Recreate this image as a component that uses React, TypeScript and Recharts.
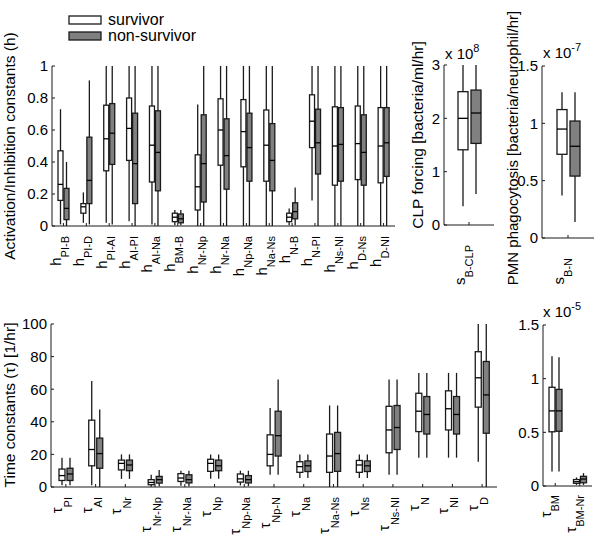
import React from "react";
import { ComposedChart, Bar, XAxis, YAxis } from "recharts";

const FONT = '"Liberation Sans", Arial, Helvetica, sans-serif';
const INK = "#1a1a1a";
const GREY = "#808080";

// each box: [low whisker, q1, median, q3, high whisker]

// activation / inhibition constants
const hLabels = ["PI-B", "PI-D", "PI-AI", "AI-PI", "AI-Na", "BM-B", "Nr-Np", "Nr-Na", "Np-Na", "Na-Ns", "N-B", "N-PI", "Ns-NI", "D-Ns", "D-NI"];
const hSurvivor = [
  [0.01, 0.16, 0.26, 0.47, 0.73],
  [0.02, 0.08, 0.12, 0.14, 0.21],
  [0.02, 0.345, 0.545, 0.755, 1],
  [0.03, 0.41, 0.61, 0.8, 1],
  [0.01, 0.275, 0.505, 0.75, 1],
  [0.005, 0.027, 0.055, 0.08, 0.1],
  [0, 0.1, 0.245, 0.445, 0.76],
  [0, 0.38, 0.6, 0.795, 1],
  [0, 0.37, 0.59, 0.79, 1],
  [0, 0.28, 0.505, 0.725, 1],
  [0.005, 0.027, 0.055, 0.08, 0.11],
  [0.16, 0.49, 0.655, 0.82, 1],
  [0, 0.255, 0.5, 0.745, 1],
  [0, 0.29, 0.515, 0.75, 1],
  [0, 0.27, 0.5, 0.74, 1],
];
const hNonSurvivor = [
  [0, 0.04, 0.11, 0.235, 0.4],
  [0.01, 0.14, 0.285, 0.555, 0.91],
  [0.01, 0.385, 0.58, 0.765, 1],
  [0, 0.14, 0.39, 0.705, 1],
  [0, 0.22, 0.46, 0.72, 1],
  [0.005, 0.02, 0.045, 0.075, 0.1],
  [0, 0.15, 0.39, 0.695, 1],
  [0, 0.23, 0.44, 0.67, 1],
  [0, 0.28, 0.49, 0.705, 1],
  [0, 0.22, 0.41, 0.64, 1],
  [0.005, 0.045, 0.09, 0.145, 0.24],
  [0, 0.325, 0.52, 0.73, 1],
  [0, 0.28, 0.51, 0.74, 1],
  [0, 0.255, 0.46, 0.695, 1],
  [0, 0.31, 0.52, 0.74, 1],
];
const hTicks = [0, 0.2, 0.4, 0.6, 0.8, 1];

// CLP forcing (x 10^8)
const clpLabels = ["B-CLP"];
const clpSurvivor = [[0.35, 1.41, 2.0, 2.5, 3.0]];
const clpNonSurvivor = [[0.58, 1.53, 2.1, 2.53, 3.0]];
const clpTicks = [0, 1, 2, 3];

// PMN phagocytosis (x 10^-7)
const pmnLabels = ["B-N"];
const pmnSurvivor = [[0.37, 0.73, 0.95, 1.12, 1.27]];
const pmnNonSurvivor = [[0.14, 0.54, 0.8, 1.02, 1.27]];
const pmnTicks = [0, 0.5, 1, 1.5];

// time constants
const tauLabels = ["PI", "AI", "Nr", "Nr-Np", "Nr-Na", "Np", "Np-Na", "Np-N", "Na", "Na-Ns", "Ns", "Ns-NI", "N", "NI", "D"];
const tauSurvivor = [
  [1, 4, 7, 11, 18],
  [1, 13, 23, 41, 65],
  [5, 10.5, 14.5, 16.5, 20],
  [0.2, 1.4, 2.8, 4.5, 7.5],
  [0.8, 3.4, 5.5, 8.2, 10],
  [5, 9.6, 14.5, 17, 20],
  [1, 3, 5, 8, 10],
  [7.5, 13, 20, 32, 48.5],
  [5.5, 9, 12.5, 15.5, 20],
  [0, 9, 19, 32.5, 50],
  [5.5, 9, 13.5, 16.3, 20],
  [7.5, 21, 35, 49.5, 66],
  [18, 34, 46.5, 57.5, 70],
  [18, 35, 48, 59, 70],
  [15.5, 49, 67, 83, 100],
];
const tauNonSurvivor = [
  [1, 4, 8, 11.5, 18],
  [0, 11.5, 20.5, 30, 47.5],
  [5, 10, 13.5, 16.5, 20],
  [0.5, 2.4, 4.5, 6.5, 10.5],
  [0.5, 2.5, 4.5, 7.5, 10],
  [5, 10, 13, 16.5, 20],
  [0.5, 2.5, 4.5, 7, 10],
  [7.5, 19, 31.5, 46.5, 66],
  [5.5, 9.5, 13, 16, 20],
  [0, 9.6, 20.5, 33.5, 50],
  [5.5, 9.5, 13, 16, 20],
  [7.5, 23, 36.5, 50, 66],
  [18, 32.5, 44.5, 55.5, 70],
  [18, 32.5, 44.5, 55.5, 70],
  [0, 33, 56.5, 77, 100],
];
const tauTicks = [0, 20, 40, 60, 80, 100];

// bone marrow time constants (x 10^-5)
const bmLabels = ["BM", "BM-Nr"];
const bmSurvivor = [
  [0.135, 0.505, 0.7, 0.92, 1.21],
  [0.01, 0.025, 0.04, 0.06, 0.08],
];
const bmNonSurvivor = [
  [0.135, 0.51, 0.7, 0.9, 1.2],
  [0.01, 0.03, 0.065, 0.09, 0.12],
];
const bmTicks = [0, 0.5, 1, 1.5];

interface Row {
  name: string;
  s: number[];
  n: number[];
}

const toRows = (labels: string[], s: number[][], n: number[][]): Row[] =>
  labels.map((name, i) => ({ name, s: s[i], n: n[i] }));

// bar covers [low, high]; the rest is placed inside it
const boxShape = (key: "s" | "n", fill: string) => (props: any) => {
  const { x, y, width, height, payload } = props;
  const [lo, q1, med, q3, hi] = payload[key];
  const py = (v: number) => y + ((hi - v) / (hi - lo)) * height;
  const cx = x + width / 2;
  return (
    <g>
      <line x1={cx} x2={cx} y1={py(hi)} y2={py(lo)} stroke={INK} strokeWidth={1.3} />
      <rect
        x={x}
        y={py(q3)}
        width={width}
        height={py(q1) - py(q3)}
        fill={fill}
        stroke={INK}
        strokeWidth={1.3}
      />
      <line x1={x} x2={x + width} y1={py(med)} y2={py(med)} stroke="#000" strokeWidth={1.3} />
    </g>
  );
};

const valueTick = (props: any) => {
  const { x, y, payload } = props;
  return (
    <g>
      <line x1={x} x2={x + 3} y1={y} y2={y} stroke={INK} />
      <text x={x - 4} y={y} dy="0.36em" textAnchor="end" fontSize={15} fill="#000" fontFamily={FONT}>
        {String(payload.value)}
      </text>
    </g>
  );
};

// rotated label: symbol with a subscript, ending just under the axis
const catTick = (symbol: string, gap: number, dx: number, subDy: number) => (props: any) => {
  const { x, y, payload } = props;
  const px = Number(x) + dx;
  const py = Number(y) + gap;
  return (
    <g>
      <line x1={x} x2={x} y1={y} y2={Number(y) - 3} stroke={INK} />
      <g transform={`translate(${px} ${py})`}>
        <g transform="rotate(-90)">
          <text x={0} y={0} textAnchor="end" fontSize={15} fill="#000" fontFamily={FONT}>
            {symbol}
            <tspan dy={subDy} fontSize={11}>
              {payload.value}
            </tspan>
          </text>
        </g>
      </g>
    </g>
  );
};

interface PanelProps {
  left: number;
  top: number;
  width: number;
  height: number;
  margin: { top: number; right: number; bottom: number; left: number };
  yWidth: number;
  xHeight: number;
  data: Row[];
  domain: [number, number];
  ticks: number[];
  barSize: number;
  barGap: number;
  tick: (props: any) => React.ReactElement;
}

function BoxPanel(p: PanelProps) {
  return (
    <div style={{ position: "absolute", left: p.left, top: p.top, width: p.width, height: p.height }}>
      <ComposedChart width={p.width} height={p.height} data={p.data} margin={p.margin} barGap={p.barGap}>
        <XAxis
          dataKey="name"
          type="category"
          interval={0}
          height={p.xHeight}
          tickLine={false}
          tickSize={0}
          tickMargin={0}
          axisLine={{ stroke: INK }}
          tick={p.tick}
        />
        <YAxis
          type="number"
          domain={p.domain}
          ticks={p.ticks}
          interval={0}
          width={p.yWidth}
          tickLine={false}
          tickSize={0}
          tickMargin={0}
          axisLine={{ stroke: INK }}
          tick={valueTick}
        />
        <Bar
          dataKey={(d: Row) => [d.s[0], d.s[4]]}
          barSize={p.barSize}
          shape={boxShape("s", "#fff")}
          isAnimationActive={false}
        />
        <Bar
          dataKey={(d: Row) => [d.n[0], d.n[4]]}
          barSize={p.barSize}
          shape={boxShape("n", GREY)}
          isAnimationActive={false}
        />
      </ComposedChart>
    </div>
  );
}

function Scale({ x, y, exp }: { x: number; y: number; exp: string }) {
  return (
    <text x={x} y={y} fontSize={15} fill="#000">
      x 10
      <tspan dy={-7} fontSize={11}>
        {exp}
      </tspan>
    </text>
  );
}

export default function App() {
  return (
    <div
      style={{
        position: "absolute",
        left: 0,
        top: 0,
        width: 598,
        height: 540,
        background: "#fff",
        fontFamily: FONT,
      }}
    >
      <BoxPanel
        left={0}
        top={0}
        width={400}
        height={300}
        margin={{ top: 66, right: 5, bottom: 14, left: 0 }}
        yWidth={52}
        xHeight={60}
        data={toRows(hLabels, hSurvivor, hNonSurvivor)}
        domain={[0, 1]}
        ticks={hTicks}
        barSize={5}
        barGap={1}
        tick={catTick("h", 10, -2.5, 8)}
      />
      <BoxPanel
        left={400}
        top={0}
        width={100}
        height={300}
        margin={{ top: 65, right: 6, bottom: 15, left: 0 }}
        yWidth={44}
        xHeight={60}
        data={toRows(clpLabels, clpSurvivor, clpNonSurvivor)}
        domain={[0, 3]}
        ticks={clpTicks}
        barSize={10}
        barGap={3}
        tick={catTick("s", 20, -4, 8)}
      />
      <BoxPanel
        left={500}
        top={0}
        width={98}
        height={300}
        margin={{ top: 66, right: 4, bottom: 12, left: 0 }}
        yWidth={42}
        xHeight={50}
        data={toRows(pmnLabels, pmnSurvivor, pmnNonSurvivor)}
        domain={[0, 1.5]}
        ticks={pmnTicks}
        barSize={10}
        barGap={3}
        tick={catTick("s", 20, -4, 8)}
      />
      <BoxPanel
        left={0}
        top={300}
        width={500}
        height={240}
        margin={{ top: 24, right: 3, bottom: 8, left: 0 }}
        yWidth={51}
        xHeight={45}
        data={toRows(tauLabels, tauSurvivor, tauNonSurvivor)}
        domain={[0, 100]}
        ticks={tauTicks}
        barSize={6}
        barGap={2}
        tick={catTick("τ", 10, -4, 10)}
      />
      <BoxPanel
        left={500}
        top={300}
        width={98}
        height={240}
        margin={{ top: 25, right: 6, bottom: 8, left: 0 }}
        yWidth={43}
        xHeight={46}
        data={toRows(bmLabels, bmSurvivor, bmNonSurvivor)}
        domain={[0, 1.5]}
        ticks={bmTicks}
        barSize={6}
        barGap={1}
        tick={catTick("τ", 9, -4, 8)}
      />
      <svg
        width={598}
        height={540}
        style={{ position: "absolute", left: 0, top: 0, pointerEvents: "none", fontFamily: FONT }}
      >
        <rect x={69} y={16} width={32} height={8} fill="#fff" stroke={INK} strokeWidth={1.3} />
        <text x={108} y={25} fontSize={16} fill="#000">survivor</text>
        <rect x={69} y={32} width={32} height={8} fill={GREY} stroke={INK} strokeWidth={1.3} />
        <text x={108} y={41} fontSize={16} fill="#000">non-survivor</text>

        <text transform="translate(15,146) rotate(-90)" textAnchor="middle" fontSize={15.5} fill="#000">
          Activation/Inhibition constants (h)
        </text>
        <text transform="translate(15,405) rotate(-90)" textAnchor="middle" fontSize={15.5} fill="#000">
          Time constants (τ) [1/hr]
        </text>
        <text transform="translate(423,135) rotate(-90)" textAnchor="middle" fontSize={15.5} fill="#000">
          CLP forcing [bacteria/ml/hr]
        </text>
        <text transform="translate(518,148) rotate(-90)" textAnchor="middle" fontSize={15} fill="#000">
          PMN phagocytosis [bacteria/neurophil/hr]
        </text>

        <Scale x={445} y={59} exp="8" />
        <Scale x={543} y={58} exp="-7" />
        <Scale x={543} y={317} exp="-5" />
      </svg>
    </div>
  );
}
